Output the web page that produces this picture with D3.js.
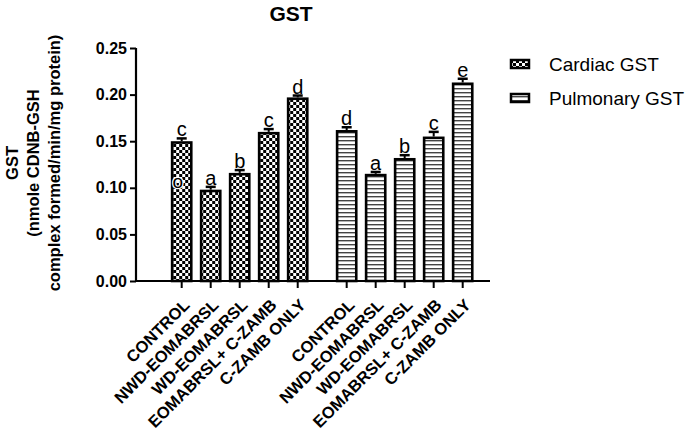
<!DOCTYPE html>
<html><head><meta charset="utf-8">
<script src="https://cdn.jsdelivr.net/npm/d3@7"></script>
<style>body{margin:0;background:#fff}svg{display:block}text{font-family:"Liberation Sans",Arial,sans-serif}</style>
</head><body><div id="chart"></div>
<script>
const categories = ["CONTROL","NWD-EOMABRSL","WD-EOMABRSL","EOMABRSL+ C-ZAMB","C-ZAMB ONLY"];
const seriesNames = ["Cardiac GST","Pulmonary GST"];
const cardiacValues = [0.150, 0.098, 0.116, 0.160, 0.197];
const cardiacErrors = [0.003, 0.003, 0.003, 0.003, 0.002];
const cardiacLetters = ["c","a","b","c","d"];
const pulmonaryValues = [0.162, 0.115, 0.132, 0.155, 0.213];
const pulmonaryErrors = [0.003, 0.002, 0.003, 0.005, 0.004];
const pulmonaryLetters = ["d","a","b","c","e"];
const yTicks = [0.00,0.05,0.10,0.15,0.20,0.25];

const W=685,H=440;
const svg=d3.select("#chart").append("svg").attr("width",W).attr("height",H);
const defs=svg.append("defs");
const chk=defs.append("pattern").attr("id","checker").attr("patternUnits","userSpaceOnUse").attr("width",6).attr("height",6);
chk.append("rect").attr("width",6).attr("height",6).attr("fill","#fff");
chk.append("rect").attr("width",3).attr("height",3).attr("fill","#000");
chk.append("rect").attr("x",3).attr("y",3).attr("width",3).attr("height",3).attr("fill","#000");
const str=defs.append("pattern").attr("id","stripes").attr("patternUnits","userSpaceOnUse").attr("width",8).attr("height",4);
str.append("rect").attr("width",8).attr("height",4).attr("fill","#fff");
str.append("rect").attr("width",8).attr("height",1.4).attr("fill","#444");

const y=d3.scaleLinear().domain([0,0.25]).range([281,48]);
const xg=d3.scaleBand().domain(seriesNames).range([167.2,477.2]).paddingInner(0.121);
const xi=d3.scaleBand().domain(categories).range([0,xg.bandwidth()]).paddingInner(0.25).paddingOuter(0.125);

const data=[
 {name:seriesNames[0],vals:cardiacValues,errs:cardiacErrors,letters:cardiacLetters,fill:"url(#checker)"},
 {name:seriesNames[1],vals:pulmonaryValues,errs:pulmonaryErrors,letters:pulmonaryLetters,fill:"url(#stripes)"}
];
const sw=2.6;
data.forEach(s=>{
  const g=svg.append("g").attr("transform",`translate(${xg(s.name)},0)`);
  categories.forEach((c,i)=>{
    const x0=xi(c), bw=xi.bandwidth(), cx=x0+bw/2;
    g.append("rect").attr("x",x0+sw/2).attr("y",y(s.vals[i])+sw/2).attr("width",bw-sw)
      .attr("height",y(0)-y(s.vals[i])-sw/2).attr("fill",s.fill).attr("stroke","#000").attr("stroke-width",sw);
    const ye=y(s.vals[i]+s.errs[i]);
    g.append("line").attr("x1",cx).attr("x2",cx).attr("y1",y(s.vals[i])).attr("y2",ye).attr("stroke","#000").attr("stroke-width",2);
    g.append("line").attr("x1",cx-5).attr("x2",cx+5).attr("y1",ye).attr("y2",ye).attr("stroke","#000").attr("stroke-width",2.5);
    g.append("text").attr("x",cx).attr("y",ye-2).attr("text-anchor","middle").attr("font-size",20).text(s.letters[i]);
  });
});
// stray annotation inside first cardiac bar
svg.append("text").attr("x",xg(seriesNames[0])+xi(categories[0])+xi.bandwidth()/2-4).attr("y",y(0.100))
  .attr("text-anchor","middle").attr("font-size",19).attr("fill","#000")
  .attr("stroke","#fff").attr("stroke-width",2.5).attr("paint-order","stroke").text("o");

// y axis
const yAxis=d3.axisLeft(y).tickValues(yTicks).tickFormat(d3.format(".2f")).tickSize(6).tickPadding(3);
const ya=svg.append("g").attr("transform","translate(136,0)").call(yAxis);
ya.select(".domain").attr("stroke-width",2.2).attr("d","M0,48V281");
ya.selectAll(".tick line").attr("stroke-width",2);
ya.selectAll(".tick text").attr("font-size",16).attr("font-weight","bold").attr("fill","#000").attr("font-family","Liberation Sans, Arial, sans-serif");

// x axis line
svg.append("line").attr("x1",135).attr("x2",490).attr("y1",y(0)).attr("y2",y(0)).attr("stroke","#000").attr("stroke-width",2.2);
data.forEach(s=>{
  const xa=d3.axisBottom(xi).tickSize(7).tickSizeOuter(0);
  const g=svg.append("g").attr("transform",`translate(${xg(s.name)},${y(0)})`).call(xa);
  g.select(".domain").remove();
  g.selectAll(".tick line").attr("stroke-width",2);
  g.selectAll(".tick text").attr("font-size",16.5).attr("font-weight","bold").attr("fill","#000")
    .attr("font-family","Liberation Sans, Arial, sans-serif")
    .attr("text-anchor","end").attr("dy",0).attr("y",0)
    .attr("transform","translate(9,25) rotate(-45)");
});

// title
svg.append("text").attr("x",291).attr("y",21).attr("text-anchor","middle").attr("font-size",21).attr("font-weight","bold").text("GST");

// y label
const yl=svg.append("text").attr("transform","translate(0,163) rotate(-90)").attr("text-anchor","middle").attr("font-size",16.5).attr("font-weight","bold");
["GST","(nmole CDNB-GSH","complex formed/min/mg protein)"].forEach((t,i)=>{
  yl.append("tspan").attr("x",0).attr("y",18+i*21).text(t);
});

// legend
data.forEach((s,i)=>{
  const ly=59+i*34;
  svg.append("rect").attr("x",511).attr("y",ly+1).attr("width",18).attr("height",8).attr("fill",s.fill).attr("stroke","#000").attr("stroke-width",2.5);
  svg.append("text").attr("x",549).attr("y",ly+12).attr("font-size",19).text(s.name);
});
</script></body></html>
